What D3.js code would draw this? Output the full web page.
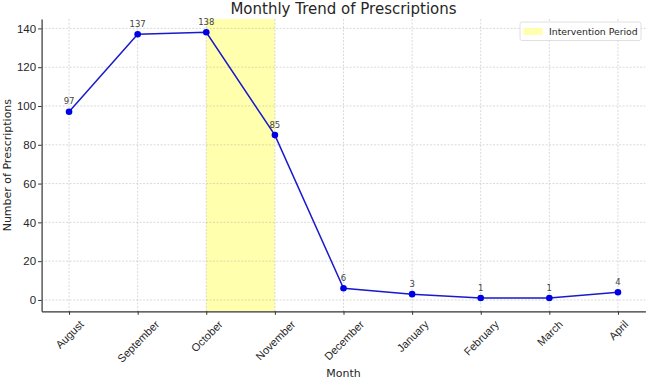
<!DOCTYPE html>
<html>
<head>
<meta charset="utf-8">
<script src="https://cdn.jsdelivr.net/npm/d3@7"></script>
<style>
  body { margin: 0; background: #fff; }
  svg { font-family: "DejaVu Sans", sans-serif; }
</style>
</head>
<body>
<div id="chart"></div>
<script>
// Chart data
const months = ["August", "September", "October", "November", "December", "January", "February", "March", "April"];
const prescriptions = [97, 137, 138, 85, 6, 3, 1, 1, 4];
const interval = ["October", "November"];
const yTicks = [0, 20, 40, 60, 80, 100, 120, 140];

const W = 650, H = 381;
const margin = { top: 19, right: 4.6, bottom: 69.7, left: 41.6 };
const width = W - margin.left - margin.right;
const height = H - margin.top - margin.bottom;

const svg = d3.select("#chart").append("svg")
    .attr("width", W)
    .attr("height", H);

const g = svg.append("g")
    .attr("transform", `translate(${margin.left},${margin.top})`);

// Scales (matplotlib style 5% margins)
const n = months.length;
const x = d3.scaleLinear()
    .domain([-0.05 * (n - 1), (n - 1) * 1.05])
    .range([0, width]);
const yMin = d3.min(prescriptions), yMax = d3.max(prescriptions);
const pad = (yMax - yMin) * 0.05;
const y = d3.scaleLinear()
    .domain([yMin - pad, yMax + pad])
    .range([height, 0]);

// Intervention span
const i0 = months.indexOf(interval[0]), i1 = months.indexOf(interval[1]);
g.append("rect")
    .attr("x", x(i0))
    .attr("width", x(i1) - x(i0))
    .attr("y", 0)
    .attr("height", height)
    .attr("fill", "#ffff00")
    .attr("opacity", 0.32);

// Grid
g.append("g")
    .selectAll("line")
    .data(yTicks)
    .enter()
    .append("line")
    .attr("x1", 0).attr("x2", width)
    .attr("y1", d => y(d)).attr("y2", d => y(d))
    .attr("stroke", "#b0b0b0")
    .attr("stroke-opacity", 0.6)
    .attr("stroke-width", 0.8)
    .attr("stroke-dasharray", "2,1.5");

g.append("g")
    .selectAll("line")
    .data(d3.range(n))
    .enter()
    .append("line")
    .attr("x1", d => x(d)).attr("x2", d => x(d))
    .attr("y1", 0).attr("y2", height)
    .attr("stroke", "#b0b0b0")
    .attr("stroke-opacity", 0.6)
    .attr("stroke-width", 0.8)
    .attr("stroke-dasharray", "2,1.5");

// Axes
const xAxis = g.append("g")
    .attr("transform", `translate(0,${height})`)
    .call(d3.axisBottom(x).tickValues(d3.range(n)).tickFormat(i => months[i]).tickSize(3.5).tickSizeOuter(0));
xAxis.select(".domain").attr("stroke", "#333").attr("stroke-width", 1.2);
xAxis.selectAll(".tick line").attr("stroke", "#333");
// rotated labels, centred on the tick like matplotlib (ha=center)
const fs = 11;
xAxis.selectAll(".tick text")
    .attr("font-size", fs)
    .attr("fill", "#262626")
    .attr("text-anchor", "middle")
    .attr("dominant-baseline", "central")
    .attr("dy", null)
    .attr("y", 0)
    .attr("transform", function () {
        const w = this.getComputedTextLength();
        const half = (w + fs * 1.15) * Math.SQRT1_2 / 2;
        return `translate(0,${6.5 + half}) rotate(-45)`;
    });

const yAxis = g.append("g")
    .call(d3.axisLeft(y).tickValues(yTicks).tickSize(3.5).tickSizeOuter(0));
yAxis.select(".domain").attr("stroke", "#333").attr("stroke-width", 1.2);
yAxis.selectAll(".tick line").attr("stroke", "#333");
yAxis.selectAll(".tick text")
    .attr("font-size", 11.5)
    .attr("fill", "#262626")
    .attr("x", -5.5);

// Line
const line = d3.line()
    .x((d, i) => x(i))
    .y(d => y(d));

g.append("path")
    .datum(prescriptions)
    .attr("d", line)
    .attr("fill", "none")
    .attr("stroke", "#1a1acc")
    .attr("stroke-width", 1.5);

g.append("g")
    .selectAll("circle")
    .data(prescriptions)
    .enter()
    .append("circle")
    .attr("cx", (d, i) => x(i))
    .attr("cy", d => y(d))
    .attr("r", 3.3)
    .attr("fill", "#0000e6");

// Value labels
g.append("g")
    .selectAll("text")
    .data(prescriptions)
    .enter()
    .append("text")
    .attr("x", (d, i) => x(i))
    .attr("y", d => y(d) - 7.5)
    .attr("text-anchor", "middle")
    .attr("font-size", 8.5)
    .attr("fill", "#444")
    .text(d => d);

// Title and labels
svg.append("text")
    .attr("x", margin.left + width / 2)
    .attr("y", 14)
    .attr("text-anchor", "middle")
    .attr("font-size", 15)
    .attr("fill", "#262626")
    .text("Monthly Trend of Prescriptions");

svg.append("text")
    .attr("x", margin.left + width / 2)
    .attr("y", 377)
    .attr("text-anchor", "middle")
    .attr("font-size", 11)
    .attr("fill", "#262626")
    .text("Month");

svg.append("text")
    .attr("transform", `translate(11,${margin.top + height / 2}) rotate(-90)`)
    .attr("text-anchor", "middle")
    .attr("font-size", 11)
    .attr("fill", "#262626")
    .text("Number of Prescriptions");

// Legend
const legend = svg.append("g").attr("transform", "translate(520,22)");
legend.append("rect")
    .attr("width", 121).attr("height", 18.5)
    .attr("rx", 2)
    .attr("fill", "#fff")
    .attr("fill-opacity", 0.8)
    .attr("stroke", "#d8d8d8")
    .attr("stroke-width", 0.8);
legend.append("rect")
    .attr("x", 3.5).attr("y", 6)
    .attr("width", 19).attr("height", 7)
    .attr("fill", "#ffff00")
    .attr("opacity", 0.32);
legend.append("text")
    .attr("x", 29).attr("y", 13)
    .attr("font-size", 9.3)
    .attr("fill", "#262626")
    .text("Intervention Period");
</script>
</body>
</html>
